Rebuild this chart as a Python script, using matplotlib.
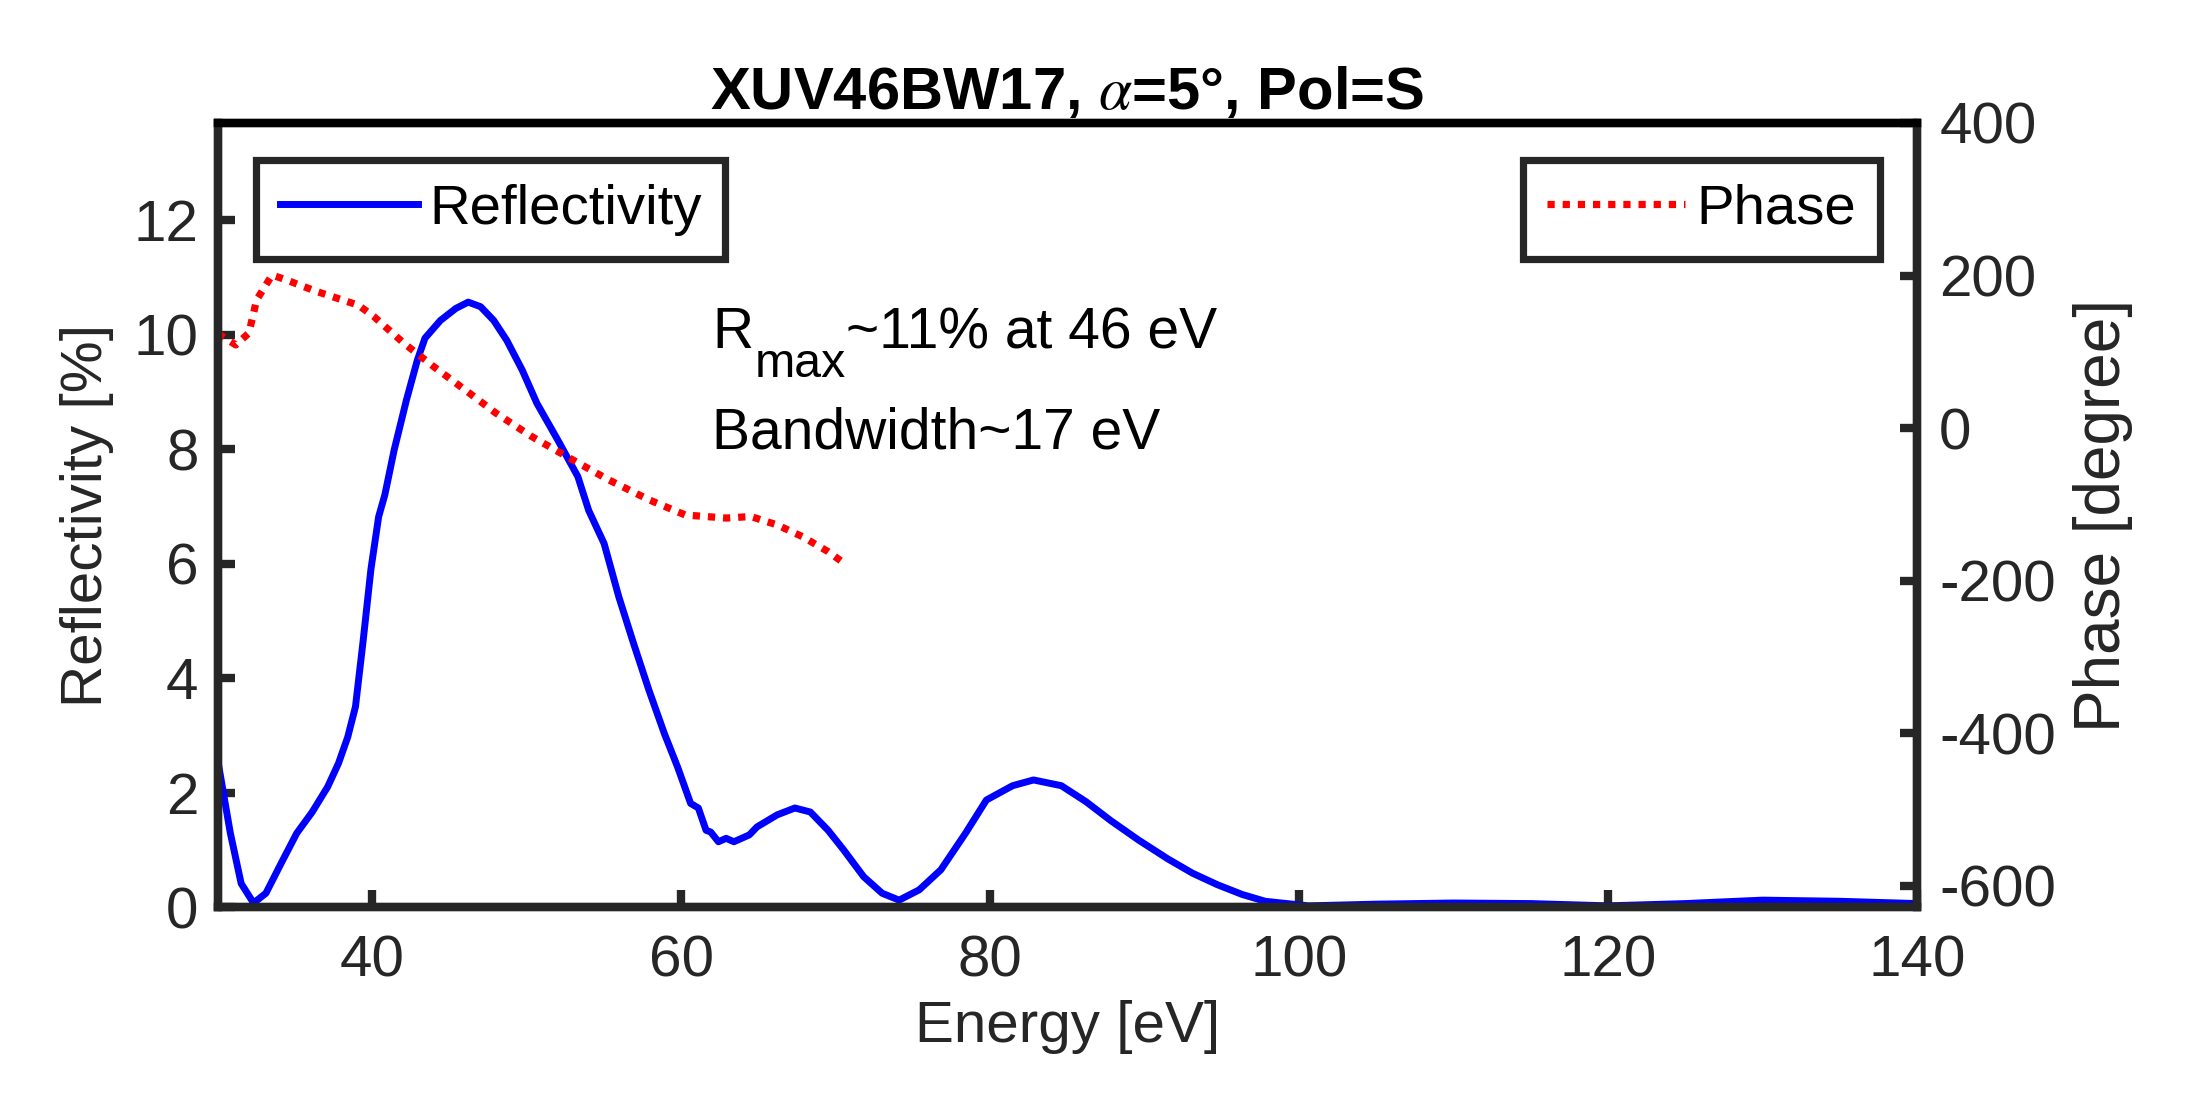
import matplotlib
matplotlib.use("Agg")
import matplotlib.pyplot as plt
from matplotlib.transforms import offset_copy

plt.rcParams['font.family'] = ['Liberation Sans', 'DejaVu Sans']
plt.rcParams['mathtext.fontset'] = 'stix'
plt.rcParams['axes.unicode_minus'] = False

# ---------------- data ----------------
energy_refl = [30.0, 30.8, 31.5, 32.3, 33.1, 34.1, 35.1, 36.1, 37.1, 37.8, 38.4, 38.9,
               39.4, 39.9, 40.4, 40.8, 41.4, 42.2, 42.9, 43.4, 44.4, 45.4, 46.2, 47.0,
               47.85, 48.7, 49.7, 50.65, 52.0, 53.3, 54.0, 55.0, 55.95, 56.9, 57.9, 58.9,
               59.75, 60.6, 61.1, 61.6, 61.9, 62.4, 62.9, 63.4, 64.4, 64.9, 66.2, 67.35,
               68.35, 69.5, 70.5, 71.8, 73.0, 74.1, 75.4, 76.8, 78.4, 79.75, 81.45, 82.8,
               84.6, 86.2, 87.8, 89.6, 91.5, 93.1, 94.7, 96.3, 97.8, 100.6, 105, 110, 115,
               120, 125, 130, 135, 140]
reflectivity = [2.54, 1.29, 0.41, 0.07, 0.24, 0.77, 1.29, 1.66, 2.1, 2.51, 2.97, 3.5,
                4.66, 5.9, 6.82, 7.2, 7.98, 8.86, 9.55, 9.94, 10.25, 10.46, 10.57, 10.49,
                10.25, 9.9, 9.38, 8.8, 8.16, 7.52, 6.93, 6.35, 5.42, 4.61, 3.79, 3.03,
                2.45, 1.81, 1.73, 1.34, 1.31, 1.14, 1.2, 1.14, 1.26, 1.40, 1.61, 1.73,
                1.66, 1.34, 1.0, 0.53, 0.24, 0.12, 0.3, 0.65, 1.29, 1.87, 2.12, 2.22,
                2.12, 1.84, 1.51, 1.17, 0.84, 0.59, 0.39, 0.22, 0.1, 0.02, 0.05, 0.07, 0.06,
                0.02, 0.06, 0.12, 0.1, 0.06]

energy_phase = [30.0, 30.3, 31.15, 32.0, 32.5, 33.5, 34.45, 36.4, 39.1, 40.1, 42.05, 44.0,
                46.0, 48.0, 50.3, 52.6, 55.3, 57.9, 60.25, 62.9, 64.5, 66.2, 67.85, 69.5, 70.7]
phase = [124, 120, 109, 124.6, 168, 200.7, 194, 179, 161, 146, 111, 80,
         50, 19.5, -11, -37.6, -68, -94, -114, -118, -116, -127, -142.5, -162, -179.6]

x_ticks = [40, 60, 80, 100, 120, 140]
left_ticks = [0, 2, 4, 6, 8, 10, 12]
right_ticks = [-600, -400, -200, 0, 200, 400]

title_text = r"XUV46BW17, $\alpha$=5°, Pol=S"
label_x = "Energy [eV]"
label_left = "Reflectivity [%]"
label_right = "Phase [degree]"
note1_parts = ["R", "max", "~11% at 46 eV"]
note2 = "Bandwidth~17 eV"

# ---------------- figure ----------------
FS = 21
AX_COL = '#262626'
fig = plt.figure(figsize=(10.935, 5.47), dpi=200)
ax = fig.add_axes([0.09968, 0.17093, 0.77686, 0.71664])
ax2 = ax.twinx()

l1, = ax.plot(energy_refl, reflectivity, color='#0000ff', lw=2.5, label='Reflectivity',
              solid_joinstyle='round')
l2, = ax2.plot(energy_phase, phase, color='#ff0000', lw=2.6, linestyle=(0, (1, 1.1)),
               label='Phase')

ax.set_xlim(30, 140)
ax.set_ylim(0, 13.7)
ax2.set_ylim(-628, 400)
ax.set_xticks(x_ticks)
ax.set_yticks(left_ticks)
ax2.set_yticks(right_ticks)

for a in (ax, ax2):
    for s in a.spines.values():
        s.set_linewidth(3.0)
        s.set_color(AX_COL)
    a.spines['top'].set_color('black')
    a.tick_params(direction='in', length=6, width=3.0, colors=AX_COL,
                  labelsize=FS, pad=7)
ax.tick_params(axis='x', top=False, pad=10)
ax.tick_params(axis='y', right=False)
ax2.tick_params(axis='y', left=False, right=True, pad=8)

ax.set_xlabel(label_x, fontsize=FS, color=AX_COL, labelpad=4)
ax.set_ylabel(label_left, fontsize=FS, color=AX_COL, labelpad=7)
ax2.set_ylabel(label_right, fontsize=23, color=AX_COL, labelpad=6)
ax.set_title(title_text, fontsize=21.5, fontweight='bold', color='black', pad=5)

# annotation with subscript built from real text pieces
fig.canvas.draw()
renderer = fig.canvas.get_renderer()
nx, ny = 62.0, 9.76
t_r = ax.text(nx, ny, note1_parts[0], fontsize=20.5, color='black',
              va='baseline', ha='left')
w_r = t_r.get_window_extent(renderer).width
t_sub = ax.text(nx, ny, note1_parts[1], fontsize=17.4, color='black',
                va='baseline', ha='left',
                transform=offset_copy(ax.transData, fig=fig, x=w_r + 1, y=-29, units='dots'))
w_sub = t_sub.get_window_extent(renderer).width
ax.text(nx, ny, note1_parts[2], fontsize=20.5, color='black', va='baseline', ha='left',
        transform=offset_copy(ax.transData, fig=fig, x=w_r + w_sub + 1, y=0, units='dots'))
ax.text(nx, 8.02, note2, fontsize=20.5, color='black', va='baseline', ha='left')

leg_kw = dict(fontsize=20.3, frameon=True, fancybox=False, framealpha=1,
              edgecolor=AX_COL, handlelength=2.45, handletextpad=0.2,
              borderpad=0.42, borderaxespad=0)
lg1 = ax.legend(handles=[l1], loc='upper left', bbox_to_anchor=(0.0224, 0.953), **leg_kw)
lg1.get_frame().set_linewidth(2.6)
lg2 = ax2.legend(handles=[l2], loc='upper right', bbox_to_anchor=(0.978, 0.953), **leg_kw)
lg2.get_frame().set_linewidth(2.6)

fig.savefig('out.png', dpi=200)
